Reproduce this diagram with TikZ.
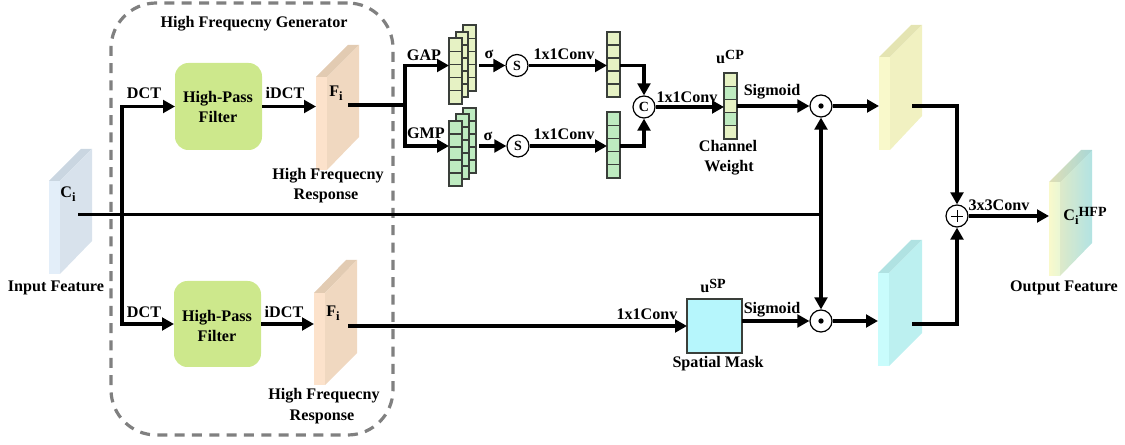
\documentclass[tikz,border=0pt]{standalone}
\usepackage{fontspec}
\setmainfont{Liberation Serif}
\usetikzlibrary{arrows.meta,fit,calc}
\definecolor{cistrip}{HTML}{E3EEF9}\definecolor{cimain}{HTML}{D8E2EC}\definecolor{citop}{HTML}{CAD6E1}
\definecolor{fstrip}{HTML}{FCE2CB}\definecolor{fmain}{HTML}{F0D8C0}\definecolor{ftop}{HTML}{E2CBB2}
\definecolor{ystrip}{HTML}{F9F9CB}\definecolor{ymain}{HTML}{F1F1C1}\definecolor{ytop}{HTML}{E4E4B2}
\definecolor{cstrip}{HTML}{C9FCFC}\definecolor{cmain}{HTML}{BCF0F0}\definecolor{ctop}{HTML}{B0E2E2}
\definecolor{filtergreen}{HTML}{CDE88C}
\definecolor{celllight}{HTML}{E6F2C4}\definecolor{cellgreen}{HTML}{BEEBC0}
\definecolor{maskblue}{HTML}{B6F6FC}\definecolor{dashgrey}{HTML}{808080}\definecolor{barline}{HTML}{3A3F3A}
\tikzset{
  conn/.style={line width=2.5pt,line join=miter,line cap=butt},
  arr/.style={conn,-{Triangle[length=9pt,width=9.5pt]}},
  lab/.style={font=\bfseries\fontsize{12.1pt}{14pt}\selectfont,anchor=base,inner sep=0pt,outer sep=0pt,yshift=-0.75pt},
  opcircle/.style={circle,draw=black,line width=0.9pt,fill=white,inner sep=0pt,minimum size=16.5pt,font=\bfseries\fontsize{10.5pt}{12pt}\selectfont},
  filterbox/.style={fill=filtergreen,rounded corners=10pt,inner sep=0pt,outer sep=0pt},
}
\newcommand{\slab}[9]{%
  \fill[#9strip] (#2,#6) rectangle (#3,#8);
  \fill[#9top] (#2,#6) -- (#2+#4-#3,#5) -- (#4,#5) -- (#3,#6) -- cycle;
  \fill[#9main] (#3,#6) -- (#4,#5) -- (#4,#7) -- (#3,#8) -- cycle;
  \node[fit={(#2,#6)(#3,#8)},inner sep=0pt,outer sep=0pt] (#1) {};
}
\newcommand{\cellbar}[6]{%
  \node[fit={(#2,#3)(#4,#5)},inner sep=0pt,outer sep=0pt,fill=#6,draw=barline,line width=1pt] (#1) {};
  \foreach \k in {1,2,3,4} {\pgfmathsetmacro{\yy}{#3+(#5-#3)*\k/5}\draw[barline,line width=1pt] (#2,\yy) -- (#4,\yy);}
}
\newcommand{\subi}{\raisebox{-0.45ex}{\fontsize{9.5pt}{10pt}\selectfont i}}
\newcommand{\supr}[1]{\raisebox{0.6ex}{\fontsize{10.5pt}{11pt}\selectfont #1}}
\begin{document}
\begin{tikzpicture}[x=0.75pt,y=-0.75pt]
\useasboundingbox (0,0) rectangle (1125,445);
% dashed frame
\node[fit={(111,3)(393,435)},inner sep=0pt,draw=dashgrey,line width=2.4pt,rounded corners=34pt,dash pattern=on 7.5pt off 5.5pt] (frame) {};
% filters
\node[filterbox,fit={(175,63)(262,150)}] (filter1) {};
\node[filterbox,fit={(174,281)(261,367)}] (filter2) {};
% slabs
\slab{ci}{49}{60}{92}{149}{181}{241}{274}{ci}
\slab{f1}{316}{327}{359}{45}{77}{137}{170}{f}
\slab{f2}{314}{325}{357}{260}{293}{353}{385}{f}
\slab{ys}{879}{890}{922}{25}{57}{116}{150}{y}
\slab{cs}{878}{889}{922}{240}{273}{333}{366}{c}
% output slab with gradient
\shade[left color=ystrip,right color=cmain] (1049,182) -- (1081,150) -- (1092,150) -- (1092,243) -- (1060,276) -- (1049,276) -- cycle;
\fill[black,opacity=0.05] (1060,182) -- (1092,150) -- (1092,243) -- (1060,276) -- cycle;
\fill[black,opacity=0.1] (1049,182) -- (1081,150) -- (1092,150) -- (1060,182) -- cycle;
\node[fit={(1049,182)(1060,276)},inner sep=0pt,outer sep=0pt] (os) {};
% stacks
\cellbar{a3}{463}{25}{476}{91}{celllight}
\cellbar{a2}{456}{32}{468}{97}{celllight}
\cellbar{a1}{449}{38}{462}{104}{celllight}
\cellbar{b3}{463}{108}{476}{173}{cellgreen}
\cellbar{b2}{456}{114}{469}{179}{cellgreen}
\cellbar{b1}{449}{121}{462}{186}{cellgreen}
\cellbar{ca}{607}{32}{620}{97}{celllight}
\cellbar{cb}{607}{112}{620}{178}{cellgreen}
% channel weight
\node[fit={(724,73)(737,139)},inner sep=0pt,outer sep=0pt,fill=celllight,draw=barline,line width=1pt] (cw) {};
\fill[cellgreen] (724,86.2) rectangle (737,99.4);
\fill[cellgreen] (724,112.6) rectangle (737,125.8);
\foreach \yy in {86.2,99.4,112.6,125.8} {\draw[barline,line width=1pt] (724,\yy) -- (737,\yy);}
\draw[barline,line width=1pt] (724,73) rectangle (737,139);
% spatial mask
\node[fit={(687,299)(742,353)},inner sep=0pt,outer sep=0pt,fill=maskblue,draw=barline,line width=1pt] (mask) {};
% operators
\node[opcircle] (s1) at (517,65.5) {S};
\node[opcircle] (s2) at (518,146) {S};
\node[opcircle] (cc) at (644,107) {C};
\node[opcircle,path picture={\fill[black] (path picture bounding box.center) circle (2pt);}] (o1) at (821,106) {};
\node[opcircle,path picture={\fill[black] (path picture bounding box.center) circle (2pt);}] (o2) at (821,321) {};
\node[opcircle,path picture={\draw[black,line width=0.7pt] ($(path picture bounding box.center)+(-6,0)$) -- ($(path picture bounding box.center)+(6,0)$) ($(path picture bounding box.center)+(0,-6)$) -- ($(path picture bounding box.center)+(0,6)$);}] (pl) at (957,216) {};
% free ends
\coordinate (cistart) at (78,214.5);
\coordinate (trunk) at (122,214.5);
\coordinate (junction) at (821,214.5);
\coordinate (f1out) at (348,105);
\coordinate (branch) at (405,105);
\coordinate (f2out) at (348,326);
\coordinate (ysout) at (912,106);
\coordinate (csout) at (912,324);
% connectors
\draw[conn] (cistart) -- (junction);
\draw[arr] (trunk) |- (filter1.west);
\draw[arr] (trunk) |- (filter2.west);
\draw[arr] (filter1.east) -- (f1.west |- filter1.east);
\draw[arr] (filter2.east) -- (f2.west |- filter2.east);
\draw[conn] (f1out) -- (branch);
\draw[arr] (branch) |- (a1.west |- s1);
\draw[arr] (branch) |- (b1.west |- s2);
\draw[arr,shorten <=2.2pt] (a3.east |- s1) -- (s1);
\draw[arr,shorten <=2.2pt] (b3.east |- s2) -- (s2);
\draw[arr] (s1) -- (ca.west |- s1);
\draw[arr] (s2) -- (cb.west |- s2);
\draw[arr] (ca.east |- s1) -| (cc.north);
\draw[arr] (cb.east |- s2) -| (cc.south);
\draw[arr] (cc.east) -- (cw.west |- cc.east);
\draw[arr] (cw.east |- o1) -- (o1);
\draw[arr] (o1) -- (ys.west |- o1);
\draw[arr] (junction) -- (o1.south);
\draw[arr] (junction) -- (o2.north);
\draw[arr] (f2out) -- (mask.west |- f2out);
\draw[arr] (mask.east |- o2) -- (o2);
\draw[arr] (o2) -- (cs.west |- o2);
\draw[arr] (ysout) -| (pl.north);
\draw[arr] (csout) -| (pl.south);
\draw[arr] (pl) -- (os.west |- pl);
% labels
\node[lab] (tgen) at (254,27) {High Frequecny Generator};
\node[lab] (tdct1) at (144,98) {DCT};
\node[lab] (tidct1) at (285,98) {iDCT};
\node[lab] (thp1) at (218,102) {High-Pass};
\node[lab] (tfl1) at (218,122) {Filter};
\node[lab] (tfi1) at (336,96) {F\subi};
\node[lab] (thf1) at (328,179) {High Frequecny};
\node[lab] (tre1) at (326,199) {Response};
\node[lab] (tci) at (68,197) {C\subi};
\node[lab] (tin) at (56,291) {Input Feature};
\node[lab] (tdct2) at (144,317) {DCT};
\node[lab] (tidct2) at (284,317) {iDCT};
\node[lab] (thp2) at (217,321) {High-Pass};
\node[lab] (tfl2) at (217,341) {Filter};
\node[lab] (tfi2) at (333,316) {F\subi};
\node[lab] (thf2) at (324,399) {High Frequecny};
\node[lab] (tre2) at (322,419) {Response};
\node[lab] (tgap) at (424,60) {GAP};
\node[lab] (tgmp) at (426,138) {GMP};
\node[lab] (tsg1) at (489,58) {σ};
\node[lab] (tsg2) at (488,140) {σ};
\node[lab] (tc1) at (564,59) {1x1Conv};
\node[lab] (tc2) at (564,139) {1x1Conv};
\node[lab] (tc3) at (687,102) {1x1Conv};
\node[lab] (tucp) at (730,63) {u\supr{CP}};
\node[lab] (tsig1) at (772,95) {Sigmoid};
\node[lab] (tch) at (728,151) {Channel};
\node[lab] (twe) at (729,171) {Weight};
\node[lab] (tc4) at (647,319) {1x1Conv};
\node[lab] (tusp) at (713,292) {u\supr{SP}};
\node[lab] (tsig2) at (772,313) {Sigmoid};
\node[lab] (tsm) at (718,367) {Spatial Mask};
\node[lab] (tc5) at (999,210) {3x3Conv};
\node[lab] (thfp) at (1085,220) {C\subi\supr{HFP}};
\node[lab] (tof) at (1064,291) {Output Feature};
\end{tikzpicture}
\end{document}
